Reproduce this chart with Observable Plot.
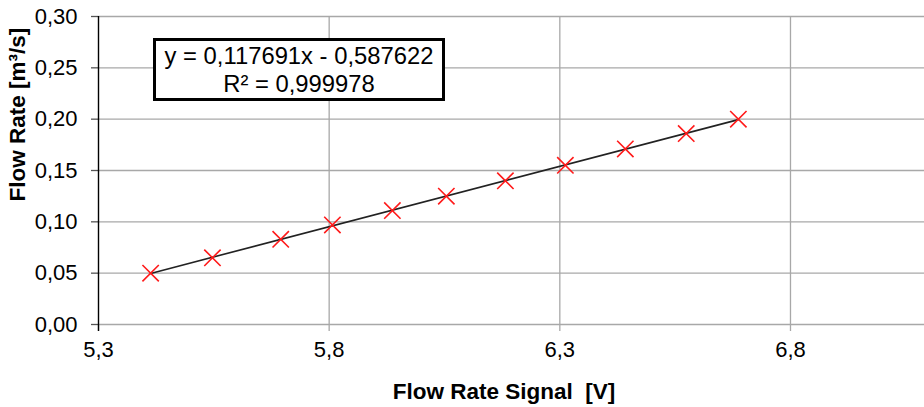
<!DOCTYPE html>
<html><head><meta charset="utf-8">
<script src="https://cdn.jsdelivr.net/npm/d3@7"></script>
<script src="https://cdn.jsdelivr.net/npm/@observablehq/plot@0.6"></script>
<style>
body{margin:0;background:#fff;}
#wrap{position:relative;width:924px;height:407px;font-family:"Liberation Sans",Arial,sans-serif;}
#eq{position:absolute;left:153px;top:38px;width:286px;height:56px;padding-top:1px;border:3px solid #000;background:#fff;text-align:center;font-size:23.8px;line-height:28px;color:#000;white-space:nowrap;}
</style></head><body><div id="wrap"></div>
<script>
// Data
const signal = [5.413, 5.547, 5.695, 5.807, 5.937, 6.054, 6.182, 6.312, 6.442, 6.574, 6.687];
const flow   = [0.050, 0.065, 0.083, 0.097, 0.111, 0.125, 0.140, 0.155, 0.171, 0.186, 0.200];
const xTicks = [5.3, 5.8, 6.3, 6.8];
const yTicks = [0, 0.05, 0.10, 0.15, 0.20, 0.25, 0.30];
const equationLines = ["y = 0,117691x - 0,587622", "R² = 0,999978"];
const xTitle = "Flow Rate Signal\u00a0 [V]";
const yTitle = "Flow Rate [m³/s]";

const data = signal.map((x, i) => ({x, y: flow[i]}));
const fmtX = d => d.toFixed(1).replace(".", ",");
const fmtY = d => d.toFixed(2).replace(".", ",");
const grid = "#a8a8a8";

const chart = Plot.plot({
  width: 924, height: 407,
  marginLeft: 98, marginRight: 0, marginTop: 16, marginBottom: 83,
  style: {fontFamily: "'Liberation Sans', Arial, sans-serif", fontSize: "22px", color: "#000", background: "#fff", overflow: "visible"},
  x: {domain: [5.3, 7.0905]},
  y: {domain: [0, 0.3]},
  marks: [
    Plot.gridY(yTicks, {stroke: grid, strokeOpacity: 1, strokeWidth: 1.3}),
    Plot.gridX(xTicks.slice(1), {stroke: grid, strokeOpacity: 1, strokeWidth: 1.3}),
    Plot.axisX(xTicks, {tickSize: 7, tickPadding: 10, stroke: grid, strokeWidth: 1.3, tickFormat: fmtX, label: null}),
    Plot.axisY(yTicks, {tickSize: 7, tickPadding: 14, stroke: "#555", strokeWidth: 1.3, tickFormat: fmtY, label: null}),
    Plot.ruleX([xTicks[0]], {stroke: "#000", strokeWidth: 1.4, insetBottom: -7}),
    Plot.linearRegressionY(data, {x: "x", y: "y", stroke: "#222", strokeWidth: 1.6, ci: 0}),
    Plot.dot(data, {x: "x", y: "y", symbol: "times", r: 7.5, stroke: "#ff1a1a", strokeWidth: 1.6}),
    Plot.text([xTitle], {frameAnchor: "bottom", text: d => d, dx: -7.5, dy: 67, lineAnchor: "middle", fontSize: 22.5, fontWeight: "bold", fill: "#000"}),
    Plot.text([yTitle], {frameAnchor: "left", text: d => d, rotate: -90, dx: -81, dy: 31, lineAnchor: "middle", fontSize: 22.5, fontWeight: "bold", fill: "#000"})
  ]
});
chart.querySelectorAll('g[aria-label*="tick label"], g[aria-label*="tick label"] text').forEach(el => {
  el.setAttribute("font-size", "22");
  el.style.fontSize = "22px";
});
const wrap = document.getElementById("wrap");
wrap.appendChild(chart);
const eq = document.createElement("div");
eq.id = "eq";
eq.innerHTML = equationLines.map(s => `<div>${s}</div>`).join("");
wrap.appendChild(eq);
</script>
</body></html>
